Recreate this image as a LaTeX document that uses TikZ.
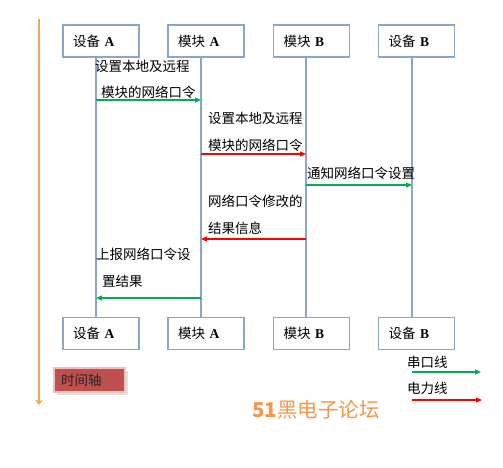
\documentclass[tikz,border=0pt]{standalone}
\usepackage{fontspec}
\setmainfont{Liberation Serif}
\newfontfamily\cjk{Noto Sans CJK SC}
\usetikzlibrary{arrows.meta,shadows}
\definecolor{boxblue}{HTML}{8AA7C8}
\definecolor{msggreen}{HTML}{00B050}
\definecolor{msgred}{HTML}{FF0000}
\definecolor{axisorange}{HTML}{F2A65A}
\definecolor{tagred}{HTML}{C0504D}
\definecolor{wmorange}{HTML}{F79646}
\tikzset{
  x=1pt, y=-1pt,
  actor/.style={draw=boxblue, line width=1.3pt, fill=white, minimum width=76pt, minimum height=32pt,
     inner xsep=10pt, text width=56pt, align=left, font=\fontsize{13.5}{15}\selectfont},
  life/.style={draw=boxblue, line width=1.3pt},
  msg/.style={font=\cjk\fontsize{13.5}{15}\selectfont, anchor=west, inner sep=0pt},
  tipx/.style={-{Triangle[length=6pt,width=5pt]}, line width=1.2pt},
  grn/.style={tipx, draw=msggreen, color=msggreen},
  rd/.style={tipx, draw=msgred, color=msgred},
}
\begin{document}
\begin{tikzpicture}
\useasboundingbox (0,0) rectangle (503,468);
% time axis
\coordinate (ax1) at (39,19);
\coordinate (ax2) at (39,405);
\draw[axisorange, line width=1.3pt, -{Straight Barb[length=4pt,width=6pt]}] (ax1) -- (ax2);
% lifeline x positions
\coordinate (lA) at (96,0);
\coordinate (lB) at (201,0);
\coordinate (lC) at (306,0);
\coordinate (lD) at (412,0);
% top boxes
\node[actor] (dA) at (101,41) {{\cjk 设备} \textbf{A}};
\node[actor] (mA) at (206,41) {{\cjk 模块} \textbf{A}};
\node[actor] (mB) at (311.5,41) {{\cjk 模块} \textbf{B}};
\node[actor] (dB) at (416.5,41) {{\cjk 设备} \textbf{B}};
% bottom boxes
\node[actor] (dA2) at (101,333.5) {{\cjk 设备} \textbf{A}};
\node[actor] (mA2) at (206,333.5) {{\cjk 模块} \textbf{A}};
\node[actor] (mB2) at (311.5,333.5) {{\cjk 模块} \textbf{B}};
\node[actor] (dB2) at (416.5,333.5) {{\cjk 设备} \textbf{B}};
% lifelines
\draw[life] (dA.south -| lA) -- (dA2.north -| lA);
\draw[life] (mA.south -| lB) -- (mA2.north -| lB);
\draw[life] (mB.south -| lC) -- (mB2.north -| lC);
\draw[life] (dB.south -| lD) -- (dB2.north -| lD);
% message 1
\node[msg] (t1a) at (95,66) {设置本地及远程};
\node[msg] (t1b) at (101,92) {模块的网络口令};
\coordinate (m1) at (0,100);
\draw[grn] (lA |- m1) -- (lB |- m1);
% message 2
\node[msg] (t2a) at (208,118) {设置本地及远程};
\node[msg] (t2b) at (208,145) {模块的网络口令};
\coordinate (m2) at (0,154);
\draw[rd] (lB |- m2) -- (lC |- m2);
% message 3
\node[msg] (t3) at (307,173) {通知网络口令设置};
\coordinate (m3) at (0,185);
\draw[grn] (lC |- m3) -- (lD |- m3);
% message 4
\node[msg] (t4a) at (208,201) {网络口令修改的};
\node[msg] (t4b) at (208,228) {结果信息};
\coordinate (m4) at (0,239);
\draw[rd] (lC |- m4) -- (lB |- m4);
% message 5
\node[msg] (t5a) at (96,254) {上报网络口令设};
\node[msg] (t5b) at (102,281) {置结果};
\coordinate (m5) at (0,298);
\draw[grn] (lB |- m5) -- (lA |- m5);
% time tag
\node[draw=tagred!35, line width=2pt, fill=tagred, minimum width=71pt, minimum height=24pt,
      drop shadow={shadow xshift=3pt, shadow yshift=-3pt, fill=black!25},
      text width=57pt, inner xsep=7pt, align=left, font=\cjk\fontsize{13.5}{15}\selectfont, text=black!85]
      (tag) at (89.5,380) {时间轴};
% legend
\node[msg] (lg1) at (407,362) {串口线};
\coordinate (g1s) at (412,372);
\coordinate (g1e) at (481,372);
\draw[grn] (g1s) -- (g1e);
\node[msg] (lg2) at (407,388) {电力线};
\coordinate (g2s) at (412,400);
\coordinate (g2e) at (482,400);
\draw[rd] (g2s) -- (g2e);
% watermark
\node[anchor=west, inner sep=0pt, text=wmorange, font=\cjk\fontsize{20.5}{23}\selectfont] (wm) at (252,410) {\textbf{51}黑电子论坛};
\end{tikzpicture}
\end{document}
